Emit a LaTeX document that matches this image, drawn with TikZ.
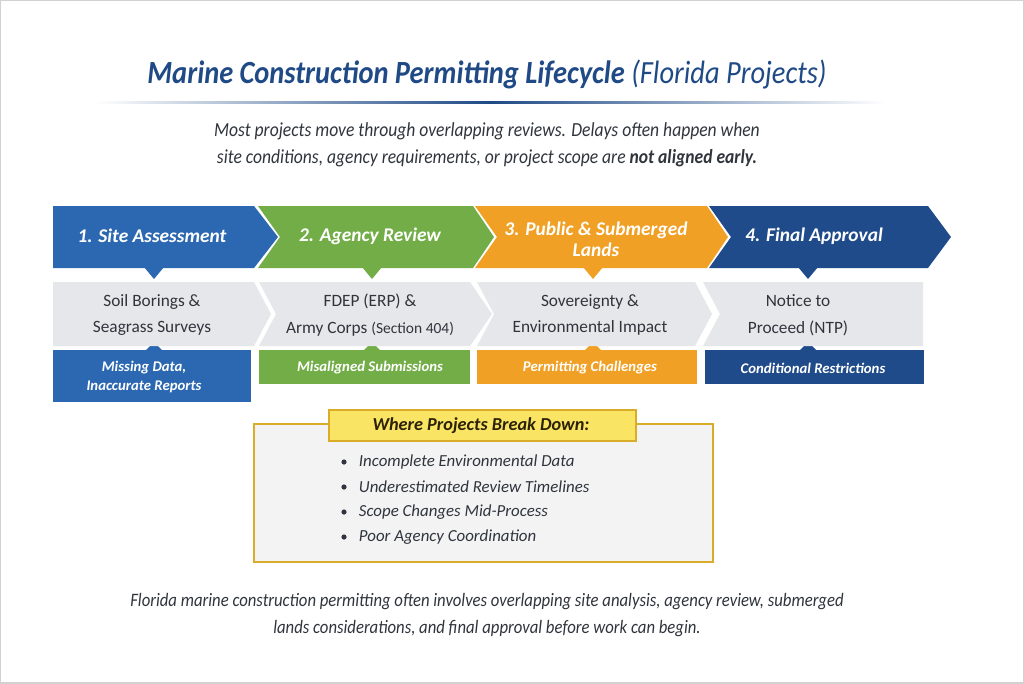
\documentclass[tikz,border=0pt]{standalone}
\usepackage{fontspec}
\setmainfont{Carlito}
\newfontfamily\narrowfont[FakeStretch=0.88]{Carlito}
\definecolor{siteblue}{HTML}{2B68B1}
\definecolor{agencygreen}{HTML}{72AD47}
\definecolor{landorange}{HTML}{F0A024}
\definecolor{finalnavy}{HTML}{1F4B8A}
\definecolor{titleblue}{HTML}{1F4A86}
\definecolor{stepgray}{HTML}{E6E7EA}
\definecolor{inkgray}{HTML}{30343C}
\definecolor{calloutgold}{HTML}{D9AC2A}
\definecolor{calloutyellow}{HTML}{F9E463}
\definecolor{calloutfill}{HTML}{F3F3F4}
\tikzset{
  stagetext/.style={text=white,font=\fontsize{13.8}{15}\selectfont\bfseries\itshape,align=center},
  detailtext/.style={text=inkgray,font=\fontsize{12.3}{19}\selectfont,align=center},
  risktext/.style={text=white,font=\fontsize{10.5}{13.5}\selectfont\bfseries\itshape,align=center},
  breaktext/.style={text=inkgray,font=\fontsize{12}{14}\selectfont\itshape,anchor=west},
  notetext/.style={text=inkgray,font=\narrowfont\fontsize{13.5}{19}\selectfont\itshape,align=center}
}
\begin{document}
\begin{tikzpicture}[x=0.25mm,y=-0.25mm]
  \useasboundingbox (0,0) rectangle (1024,683);
  \filldraw[fill=white,draw=gray!35,line width=1pt] (0,0) rectangle (1024,683);
  % title
  \node[text=titleblue,font=\narrowfont\fontsize{23}{26}\selectfont] (title) at (487,74)
    {\bfseries\itshape Marine Construction Permitting Lifecycle \mdseries(Florida Projects)};
  \shade[left color=white,right color=white,middle color=titleblue] (95,101) rectangle (885,103);
  \node[notetext,font=\narrowfont\fontsize{14.2}{19}\selectfont\itshape] (intro) at (487,145)
    {Most projects move through overlapping reviews. Delays often happen when\\
     site conditions, agency requirements, or project scope are \bfseries not aligned early.};
  % stage chevrons
  \fill[siteblue] (53,206) -- (254,206) -- (278,237) -- (254,268) -- (53,268) -- cycle;
  \fill[agencygreen] (258,206) -- (473,206) -- (494,237) -- (473,268) -- (258,268) -- (280,237) -- cycle;
  \fill[landorange] (475,206) -- (707,206) -- (728,237) -- (707,268) -- (475,268) -- (497,237) -- cycle;
  \fill[finalnavy] (709,206) -- (928,206) -- (951,237) -- (928,268) -- (709,268) -- (731,237) -- cycle;
  \foreach \xc/\col in {154/siteblue,372/agencygreen,593/landorange,808/finalnavy}{
    \fill[\col] (\xc-10,267) -- (\xc+10,267) -- (\xc,279) -- cycle;
    \fill[\col] (\xc-9,351) -- (\xc,342) -- (\xc+9,351) -- cycle;
  }
  \node[stagetext] (s1) at (152,236) {1. Site Assessment};
  \node[stagetext] (s2) at (370,236) {2. Agency Review};
  \node[stagetext] (s3) at (596,239) {3. Public \& Submerged\\Lands};
  \node[stagetext] (s4) at (814,236) {4. Final Approval};
  % detail chevrons
  \fill[stepgray] (53,282) -- (254,282) -- (271,314) -- (254,346) -- (53,346) -- cycle;
  \fill[stepgray] (259,282) -- (470,282) -- (492,314) -- (470,346) -- (259,346) -- (276,314) -- cycle;
  \fill[stepgray] (477,282) -- (695,282) -- (712,314) -- (695,346) -- (477,346) -- (494,314) -- cycle;
  \fill[stepgray] (703,282) -- (923,282) -- (923,346) -- (703,346) -- (720,314) -- cycle;
  \node[detailtext] (d1) at (152,315) {Soil Borings \&\\Seagrass Surveys};
  \node[detailtext] (d2) at (370,315) {FDEP (ERP) \&\\Army Corps {\fontsize{11}{13}\selectfont(Section 404)}};
  \node[detailtext] (d3) at (590,315) {Sovereignty \&\\Environmental Impact};
  \node[detailtext] (d4) at (798,315) {Notice to\\Proceed (NTP)};
  % risk boxes
  \fill[siteblue] (53,350) rectangle (251,402);
  \fill[agencygreen] (259,350) rectangle (470,384);
  \fill[landorange] (477,350) rectangle (697,384);
  \fill[finalnavy] (705,350) rectangle (924,384);
  \node[risktext] (r1) at (144,377) {Missing Data,\\Inaccurate Reports};
  \node[risktext] (r2) at (370,368) {Misaligned Submissions};
  \node[risktext] (r3) at (590,368) {Permitting Challenges};
  \node[risktext] (r4) at (813,368) {Conditional Restrictions};
  % breakdown callout
  \filldraw[fill=calloutfill,draw=calloutgold,line width=1.2pt] (254,424) rectangle (713,562);
  \filldraw[fill=calloutyellow,draw=calloutgold,line width=1pt] (329,410) rectangle (636,441);
  \node[text=black!80!calloutgold,font=\fontsize{13}{14}\selectfont\bfseries\itshape] (calltitle) at (481,426) {Where Projects Break Down:};
  \foreach \yc/\txt [count=\i] in {462/Incomplete Environmental Data,487/Underestimated Review Timelines,
      512/Scope Changes Mid-Process,537/Poor Agency Coordination}{
    \fill[inkgray] (344,\yc) circle (2.6);
    \node[breaktext] (b\i) at (354,\yc) {\txt};
  }
  % footnote
  \node[notetext] (note) at (487,615)
    {Florida marine construction permitting often involves overlapping site analysis, agency review, submerged\\
     lands considerations, and final approval before work can begin.};
\end{tikzpicture}
\end{document}
